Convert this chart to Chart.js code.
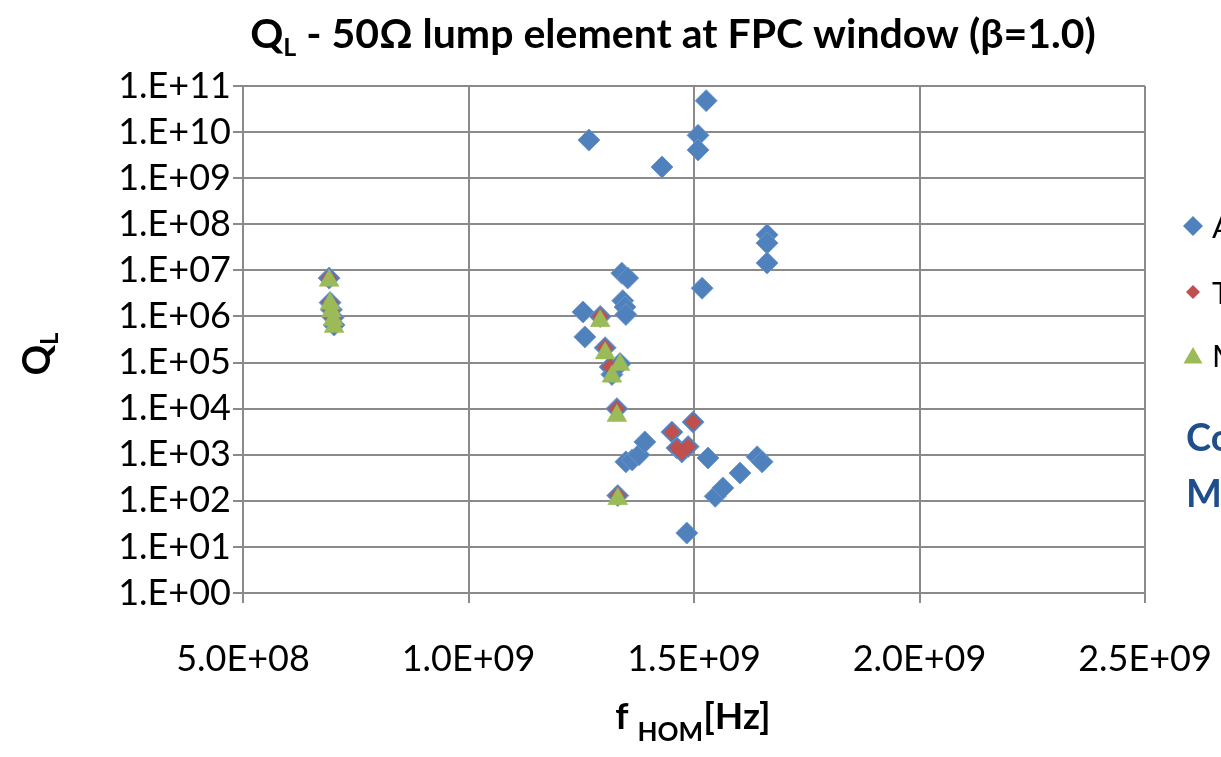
<!DOCTYPE html>
<html><head><meta charset="utf-8">
<script src="https://cdn.jsdelivr.net/npm/chart.js@4.4.1/dist/chart.umd.min.js"></script>
<style>html,body{margin:0;padding:0;background:#fff;overflow:hidden}#wrap{width:1221px;height:757px;position:relative}</style>
</head><body><div id="wrap"><canvas id="c" width="1221" height="757"></canvas></div>
<script>
const seriesNames = ['All modes', 'TE-like modes', 'Monopole modes'];

const allX = [6.91e8, 6.93e8, 6.96e8, 7.00e8, 7.02e8,
  1.254e9, 1.258e9, 1.267e9, 1.292e9, 1.303e9, 1.314e9, 1.318e9, 1.336e9, 1.329e9, 1.331e9,
  1.340e9, 1.353e9, 1.342e9, 1.347e9, 1.349e9,
  1.349e9, 1.363e9, 1.378e9, 1.391e9,
  1.429e9, 1.451e9, 1.462e9, 1.473e9, 1.487e9, 1.498e9,
  1.484e9, 1.509e9, 1.509e9, 1.518e9, 1.527e9,
  1.531e9, 1.547e9, 1.564e9, 1.602e9, 1.640e9, 1.651e9,
  1.662e9, 1.662e9, 1.662e9];
const allY = [6.8e6, 2.0e6, 1.4e6, 9.5e5, 6.5e5,
  1.25e6, 3.6e5, 6.7e9, 1.0e6, 2.1e5, 8.0e4, 5.5e4, 9.5e4, 1.0e4, 1.3e2,
  8.7e6, 6.8e6, 2.2e6, 1.6e6, 1.1e6,
  7.0e2, 7.7e2, 1.0e3, 1.9e3,
  1.75e9, 3.1e3, 1.4e3, 1.15e3, 1.5e3, 5.1e3,
  2.0e1, 8.5e9, 4.1e9, 4.1e6, 4.8e10,
  8.5e2, 1.25e2, 1.9e2, 4.0e2, 9.0e2, 7.0e2,
  5.9e7, 3.9e7, 1.45e7];

const teX = [6.91e8, 6.93e8, 6.96e8, 7.00e8, 7.02e8,
  1.292e9, 1.303e9, 1.314e9, 1.329e9, 1.331e9,
  1.451e9, 1.462e9, 1.473e9, 1.487e9, 1.498e9];
const teY = [6.8e6, 2.0e6, 1.4e6, 9.5e5, 6.5e5,
  1.0e6, 2.1e5, 8.0e4, 1.0e4, 1.3e2,
  3.1e3, 1.4e3, 1.15e3, 1.5e3, 5.1e3];

const monoX = [6.91e8, 6.93e8, 6.96e8, 7.00e8, 7.02e8,
  1.292e9, 1.303e9, 1.318e9, 1.336e9, 1.329e9, 1.331e9];
const monoY = [6.0e6, 1.9e6, 1.3e6, 8.5e5, 6.0e5,
  8.0e5, 1.6e5, 5.0e4, 9.0e4, 7.0e3, 1.1e2];

const xTickValues = [5e8, 1e9, 1.5e9, 2e9, 2.5e9];
const xTickLabels = ['5.0E+08', '1.0E+09', '1.5E+09', '2.0E+09', '2.5E+09'];
const yTickValues = [1e0, 1e1, 1e2, 1e3, 1e4, 1e5, 1e6, 1e7, 1e8, 1e9, 1e10, 1e11];
const yTickLabels = ['1.E+00', '1.E+01', '1.E+02', '1.E+03', '1.E+04', '1.E+05', '1.E+06',
  '1.E+07', '1.E+08', '1.E+09', '1.E+10', '1.E+11'];

const colors = ['#4F81BD', '#C0504D', '#9BBB59'];
const pts = (xs, ys) => xs.map((x, i) => ({x: x, y: ys[i]}));

const FONT = 'Lato, "Liberation Sans", sans-serif';

const decor = {
  id: 'decor',
  afterDraw(chart) {
    const ctx = chart.ctx;
    ctx.save();
    ctx.fillStyle = '#000';
    ctx.textBaseline = 'alphabetic';
    // Title with subscript
    const big = 'bold 41px ' + FONT, sub = 'bold 25px ' + FONT;
    const rest = ' - 50\u03A9 lump element at FPC window (\u03B2=1.0)';
    ctx.font = big; const wQ = ctx.measureText('Q').width; const wR = ctx.measureText(rest).width;
    ctx.font = sub; const wL = ctx.measureText('L').width;
    let x0 = 673 - (wQ + wL + wR) / 2;
    const by = 48;
    ctx.font = big; ctx.textAlign = 'left'; ctx.fillText('Q', x0, by);
    ctx.font = sub; ctx.fillText('L', x0 + wQ, by + 8);
    ctx.font = big; ctx.fillText(rest, x0 + wQ + wL, by);

    // X axis title
    const xb = 'bold 37px ' + FONT, xs = 'bold 26px ' + FONT;
    ctx.font = xb; const wf = ctx.measureText('f ').width; const wh = ctx.measureText('[Hz]').width;
    ctx.font = xs; const wH = ctx.measureText('HOM').width;
    let xx = 693 - (wf + wH + wh) / 2;
    ctx.font = xb; ctx.fillText('f ', xx, 729);
    ctx.font = xs; ctx.fillText('HOM', xx + wf, 741);
    ctx.font = xb; ctx.fillText('[Hz]', xx + wf + wH, 729);

    // Y axis title (rotated)
    ctx.save();
    ctx.translate(50, 354);
    ctx.rotate(-Math.PI / 2);
    const yb = 'bold 38px ' + FONT, ys = 'bold 24px ' + FONT;
    ctx.font = yb; const wq = ctx.measureText('Q').width;
    ctx.font = ys; const wl = ctx.measureText('L').width;
    const sx = -(wq + wl) / 2;
    ctx.font = yb; ctx.fillText('Q', sx, 0);
    ctx.font = ys; ctx.fillText('L', sx + wq, 8);
    ctx.restore();

    // Legend (cut off at the right edge, as in the reference)
    const ly = [226, 292, 355];
    const styles = ['rectRot', 'rectRot', 'triangle'];
    const radii = [10, 7, 11];
    ctx.font = '31px ' + FONT; ctx.textBaseline = 'middle';
    for (let i = 0; i < 3; i++) {
      ctx.fillStyle = colors[i]; ctx.strokeStyle = colors[i];
      Chart.helpers.drawPoint(ctx, {pointStyle: styles[i], radius: radii[i], borderWidth: 0, rotation: 0}, 1193, ly[i] + (i === 2 ? 3 : 0));
      ctx.fillStyle = '#000';
      ctx.fillText(seriesNames[i], 1212, ly[i] + 2);
    }
    // Side note text (cut off)
    ctx.fillStyle = '#1F4E8C';
    ctx.font = 'bold 38px ' + FONT; ctx.textBaseline = 'alphabetic';
    ctx.fillText('Coupler', 1186, 451);
    ctx.fillText('Monopole', 1186, 507);
    ctx.restore();
  }
};

const grid = {color: '#8a8a8a', lineWidth: 2, tickLength: 10, drawTicks: true};
const border = {display: true, color: '#8a8a8a', width: 2};
const tickFont = {family: FONT, size: 36};

new Chart(document.getElementById('c'), {
  type: 'scatter',
  data: {
    datasets: [
      {label: seriesNames[0], data: pts(allX, allY), order: 3, pointStyle: 'rectRot', pointRadius: 11,
        pointHoverRadius: 11, backgroundColor: colors[0], borderColor: 'rgba(110,150,205,0.9)', borderWidth: 1},
      {label: seriesNames[1], data: pts(teX, teY), order: 2, pointStyle: 'rectRot', pointRadius: 8,
        pointHoverRadius: 8, backgroundColor: colors[1], borderColor: colors[1], borderWidth: 0.5},
      {label: seriesNames[2], data: pts(monoX, monoY), order: 1, pointStyle: 'triangle', pointRadius: 11.5,
        pointHoverRadius: 11.5, backgroundColor: colors[2], borderColor: colors[2], borderWidth: 0.5}
    ]
  },
  options: {
    responsive: false,
    animation: false,
    devicePixelRatio: 1,
    layout: {padding: {left: 0, right: 76, top: 86, bottom: 0}, autoPadding: false},
    plugins: {legend: {display: false}, title: {display: false}, tooltip: {enabled: false}},
    scales: {
      x: {
        type: 'linear', min: 5e8, max: 2.5e9,
        afterBuildTicks: s => { s.ticks = xTickValues.map(v => ({value: v})); },
        afterFit: s => { s.height = 164; s.paddingLeft = 0; s.paddingRight = 0; },
        ticks: {callback: (v, i) => xTickLabels[i], font: tickFont, color: '#000', padding: 35, maxRotation: 0, autoSkip: false},
        grid: grid, border: border
      },
      y: {
        type: 'logarithmic', min: 1, max: 1e11,
        afterBuildTicks: s => { s.ticks = yTickValues.map(v => ({value: v})); },
        afterFit: s => { s.width = 243; s.paddingTop = 0; s.paddingBottom = 0; },
        ticks: {callback: (v, i) => yTickLabels[i], font: tickFont, color: '#000', padding: 2, autoSkip: false},
        grid: grid, border: border
      }
    }
  },
  plugins: [decor]
});
</script>
</body></html>
